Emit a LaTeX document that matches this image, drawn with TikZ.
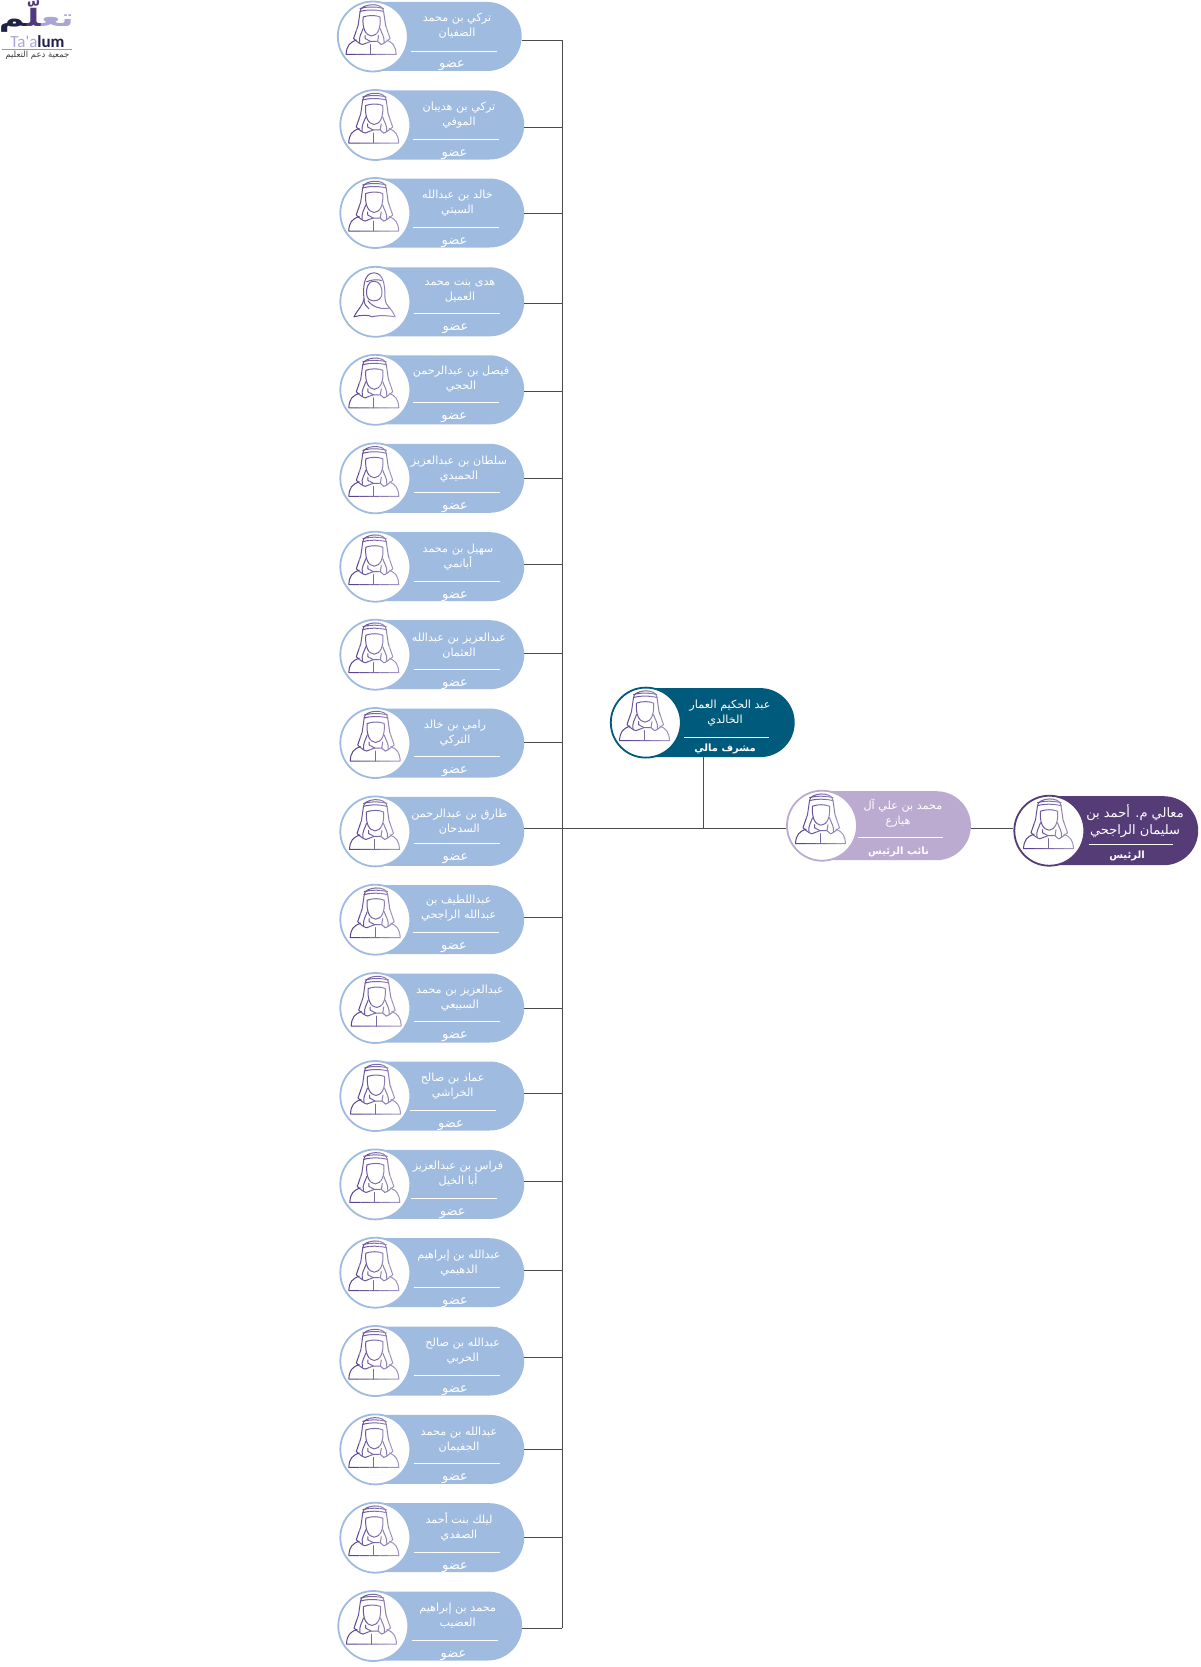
\documentclass[tikz,border=0pt]{standalone}
\usepackage{fontspec}
\usepackage{xcolor}
\usetikzlibrary{shapes.misc}
\TeXXeTstate=1
\newfontfamily\arabicfont[Script=Arabic]{DejaVu Sans}
\newfontfamily\logoarabic[Script=Arabic,FakeStretch=1.45]{DejaVu Sans}
\newfontfamily\logofont{Carlito}
\definecolor{memberblue}{HTML}{A0BBE0}
\definecolor{tealbox}{HTML}{005A7C}
\definecolor{lilacbox}{HTML}{BCABD1}
\definecolor{plumbox}{HTML}{553C77}
\definecolor{iconpurple}{HTML}{5A4390}
\definecolor{logonavy}{HTML}{1F2147}
\definecolor{logoplum}{HTML}{4F3A80}
\definecolor{logolilac}{HTML}{A9A6D6}
\newcommand{\manlines}{
	\draw (-11.5,-25) .. controls (-11.5,-33) and (11.5,-35) .. (12,-25);
	\draw (-11.5,-28) .. controls (-5,-30) and (5,-30) .. (12,-28);
	\draw (-11.5,-25) .. controls (-5,-27) and (5,-27) .. (12,-25);
	\draw (-8.5,-19.5) .. controls (-3,-21.5) and (4,-21.5) .. (8.5,-19.5) .. controls (9.5,-8) and (6,-1) .. (0,-0.5) .. controls (-6,-1) and (-9.5,-8) .. (-8.5,-19.5);
	\draw (-11.5,-25) -- (-13.5,-11) -- (-18,2) .. controls (-15,5) and (-11,8) .. (-9,8);
	\draw (12,-25) -- (14,-11) -- (18.5,2) .. controls (15,5) and (11,8) .. (9.5,8);
	\draw (-8.5,-8) .. controls (-10,-3) and (-13,0) .. (-12,6);
	\draw (8.5,-8) .. controls (10,-3) and (13,0) .. (12.5,6);
	\draw (-6.5,-1) -- (-6.5,2) -- (-1,5) -- (6,5) -- (7,-1);
	\draw (-15,3.5) .. controls (-22,6) and (-25,9) .. (-25.5,18) -- (24.5,18) .. controls (24,9) and (21,6) .. (15,3.5);
	\draw (-9,8) -- (-1,5);
	\draw (9.5,8) -- (6,5);
	\draw (-0.7,8) -- (-0.7,18);
}
\newcommand{\womanlines}{
	\draw (-21,15) .. controls (-17,7) and (-12,4) .. (-11,-3) .. controls (-12,-12) and (-12,-29) .. (-1,-29) .. controls (10,-29) and (10,-12) .. (10,-3) .. controls (10,4) and (17,6) .. (20,15);
	\draw (-21,15) .. controls (-14,13) and (-6,13) .. (-3,15) .. controls (5,13) and (14,14) .. (20,15);
	\draw (-1,-20.5) .. controls (-8,-20.5) and (-8.5,-12) .. (-8.5,-9) .. controls (-8.5,-3) and (-5,-1) .. (-1,-1) .. controls (4,-1) and (7,-4) .. (7,-9) .. controls (7,-14) and (5,-21) .. (-1,-20.5);
	\draw (-8.5,-20) .. controls (-4,-22) and (3,-23) .. (7,-21);
	\draw (-7,-1) .. controls (-2,6) and (8,8) .. (15,6);
	\draw (-11,-3) .. controls (-11,2) and (-9,5) .. (-6,7);
}
\newcommand{\fadelines}[1]{
	\foreach \sliceL/\sliceR/\sliceC in {-30/-15/100, -15/-5/90, -5/5/80, 5/15/68, 15/30/58}{
		\begin{scope}
			\clip (\sliceL,-40) rectangle (\sliceR,25);
			\begin{scope}[draw=iconpurple!\sliceC!white, line width=1pt, line cap=round, line join=round]
				#1
			\end{scope}
		\end{scope}
	}
}
\tikzset{
	pillbox/.style = {rounded rectangle, rounded rectangle left arc=none, inner sep=0pt, minimum width=149.5pt, minimum height=69pt},
	ringbox/.style = {circle, fill=white, line width=1.8pt, inner sep=0pt, minimum size=70pt},
	nametext/.style = {anchor=base, yshift=-4pt, inner sep=0pt, text=white, font=\arabicfont\fontsize{11.2pt}{13pt}\selectfont},
	roletext/.style = {anchor=base, yshift=-4.5pt, inner sep=0pt, text=white, font=\arabicfont\fontsize{13pt}{14pt}\selectfont},
	boldrole/.style = {roletext, font=\arabicfont\bfseries\fontsize{10pt}{12pt}\selectfont},
	bignametext/.style = {nametext, font=\arabicfont\fontsize{13pt}{14pt}\selectfont},
	logoword/.style = {inner sep=0pt, font=\logoarabic\bfseries\fontsize{24pt}{26pt}\selectfont},
	linkline/.style = {draw=black!70, line width=1pt},
	ruleline/.style = {draw=white, line width=0.6pt},
	pics/manicon/.style = {code = {\fadelines{\manlines}}},
	pics/womanicon/.style = {code = {\fadelines{\womanlines}}},
}
\newcommand{\card}[6]{
	\node[pillbox, fill=#2] (p#1) at ({#3+74.45},#4) {};
	\node[ringbox, draw=#2] (r#1) at ({#3+0.3},#4) {};
	\pic at (#5,#4) {#6};
}
\newcommand{\member}[5]{
	\card{#1}{memberblue}{#2}{#3}{#4}{manicon}
	\coordinate (t#1) at (562.3,#5);
	\draw[linkline] (t#1 -| p#1.east) -- (t#1);
}
\newcommand{\memberText}[7]{
	\node[nametext] (a#1) at (#2,#3) {#4};
	\node[nametext] (b#1) at (#2,{#3+15}) {#5};
	\draw[ruleline] ({#6-43},#7) -- ({#6+43},#7);
	\node[roletext] (c#1) at ({#6-1.5},{#7+12.5}) {\beginR عضو\endR};
}
\begin{document}
\begin{tikzpicture}[x=1pt, y=-1pt]
	\useasboundingbox (0,0) rectangle (1200,1667);

	\member{1}{372.5}{36.5}{371.6}{40.5}
	\member{2}{375}{125}{374.2}{127.7}
	\member{3}{375}{213}{374.2}{213.7}
	\card{4}{memberblue}{375}{301.8}{375}{womanicon}
	\coordinate (t4) at (562.3,303.8);
	\draw[linkline] (t4 -| p4.east) -- (t4);
	\member{5}{375}{389.8}{374.3}{391}
	\member{6}{375}{478.3}{374.3}{478}
	\member{7}{375}{566.7}{374.3}{564.7}
	\member{8}{375}{654.7}{374.3}{653.3}
	\member{9}{375}{743}{375.7}{742.3}
	\member{10}{375}{831.4}{375}{828.3}
	\member{11}{375}{919.7}{375.7}{917.7}
	\member{12}{375}{1008}{376.7}{1008.7}
	\member{13}{375}{1096}{376}{1093.3}
	\member{14}{375}{1184.4}{375.3}{1181}
	\member{15}{375}{1272.7}{374.3}{1270}
	\member{16}{375}{1361}{374.3}{1357.7}
	\member{17}{375}{1449.4}{374.3}{1449}
	\member{18}{375}{1537.7}{374.3}{1537.7}
	\member{19}{373}{1626}{372}{1628.3}
	\draw[linkline] (t1) -- (t19);

	\memberText{1}{457}{18}{\beginR تركي بن محمد\endR}{\beginR الضفيان\endR}{453.6}{51}
	\memberText{2}{459}{106.5}{\beginR تركي بن هديبان\endR}{\beginR الموفي\endR}{456}{139}
	\memberText{3}{457.5}{194}{\beginR خالد بن عبدالله\endR}{\beginR السبتي\endR}{456}{227}
	\memberText{4}{460}{281}{\beginR هدى بنت محمد\endR}{\beginR العميل\endR}{457}{313}
	\memberText{5}{461}{370}{\beginR فيصل بن عبدالرحمن\endR}{\beginR الحجي\endR}{455.8}{402.7}
	\memberText{6}{459}{460}{\beginR سلطان بن عبدالعزيز\endR}{\beginR الحميدي\endR}{456.5}{492.7}
	\memberText{7}{458}{548}{\beginR سهيل بن محمد\endR}{\beginR أبانمي\endR}{456.5}{581}
	\memberText{8}{459}{637}{\beginR عبدالعزيز بن عبدالله\endR}{\beginR العثمان\endR}{456.5}{669}
	\memberText{9}{455}{724}{\beginR رامي بن خالد\endR}{\beginR التركي\endR}{456.5}{756}
	\memberText{10}{459.3}{813}{\beginR طارق بن عبدالرحمن\endR}{\beginR السدحان\endR}{457}{843}
	\memberText{11}{458.7}{899}{\beginR عبداللطيف بن\endR}{\beginR عبدالله الراجحي\endR}{455.5}{932}
	\memberText{12}{460}{989}{\beginR عبدالعزيز بن محمد\endR}{\beginR السبيعي\endR}{456.5}{1021.7}
	\memberText{13}{452.7}{1077}{\beginR عماد بن صالح\endR}{\beginR الخراشي\endR}{452.5}{1110}
	\memberText{14}{458}{1165}{\beginR فراس بن عبدالعزيز\endR}{\beginR أبا الخيل\endR}{454.3}{1198}
	\memberText{15}{459}{1254.7}{\beginR عبدالله بن إبراهيم\endR}{\beginR الدهيمي\endR}{456.5}{1287}
	\memberText{16}{462.7}{1342.7}{\beginR عبدالله بن صالح\endR}{\beginR الحربي\endR}{456.5}{1375.7}
	\memberText{17}{459}{1431}{\beginR عبدالله بن محمد\endR}{\beginR الجفيمان\endR}{456.5}{1463.7}
	\memberText{18}{459}{1519.3}{\beginR ليلك بنت أحمد\endR}{\beginR الصفدي\endR}{456.5}{1552}
	\memberText{19}{457.7}{1607}{\beginR محمد بن إبراهيم\endR}{\beginR العضيب\endR}{455}{1640}

	\card{fin}{tealbox}{645.5}{722.6}{645}{manicon}
	\node[nametext] (afin) at (730,704.3) {\beginR عبد الحكيم العمار\endR};
	\node[nametext] (bfin) at (725,719.3) {\beginR الخالدي\endR};
	\draw[ruleline] (684,737) -- (769,737);
	\node[boldrole] (cfin) at (725,746.5) {\beginR مشرف مالي\endR};

	\card{vp}{lilacbox}{821.7}{825.7}{821}{manicon}
	\node[nametext] (avp) at (903,805) {\beginR محمد بن علي آل\endR};
	\node[nametext] (bvp) at (898,820) {\beginR هيازع\endR};
	\draw[ruleline] (857.6,837.7) -- (943,837.7);
	\node[boldrole] (cvp) at (898.5,849.5) {\beginR نائب الرئيس\endR};

	\card{pres}{plumbox}{1049}{830.7}{1049}{manicon}
	\node[bignametext] (apres) at (1135,813) {\beginR معالي م. أحمد بن\endR};
	\node[bignametext] (bpres) at (1135,830.7) {\beginR سليمان الراجحي\endR};
	\draw[ruleline] (1088.5,844.3) -- (1173,844.3);
	\node[boldrole] (cpres) at (1127,854) {\beginR الرئيس\endR};

	\coordinate (jfin) at (703,828.3);
	\draw[linkline] (jfin |- pfin.south) -- (jfin);
	\draw[linkline] (t10 -| p10.east) -- (t10 -| rvp.west);
	\draw[linkline] (jfin -| pvp.east) -- (jfin -| rpres.west);

	\node[logoword, anchor=base east, text=logolilac] (logoa) at (74,27) {\beginR تع^^^^200d\endR};
	\node[logoword, anchor=base east, text=logoplum] (logob) at (logoa.base west) {\beginR ^^^^200dلّ^^^^200d\endR};
	\node[logoword, anchor=base east, text=logonavy] (logoc) at (logob.base west) {\beginR ^^^^200dم\endR};
	\node[inner sep=0pt, text=logolilac, font=\logofont\fontsize{17pt}{18pt}\selectfont] (logod) at (37.5,41.5) {Ta'a\textcolor{logonavy}{\textbf{lum}}};
	\draw[black!40, line width=0.4pt] (2,49) -- (72,49);
	\node[inner sep=0pt, text=black!75, font=\arabicfont\fontsize{8.5pt}{9pt}\selectfont] (logoe) at (37.5,55) {\beginR جمعية دعم التعليم\endR};
\end{tikzpicture}
\end{document}
